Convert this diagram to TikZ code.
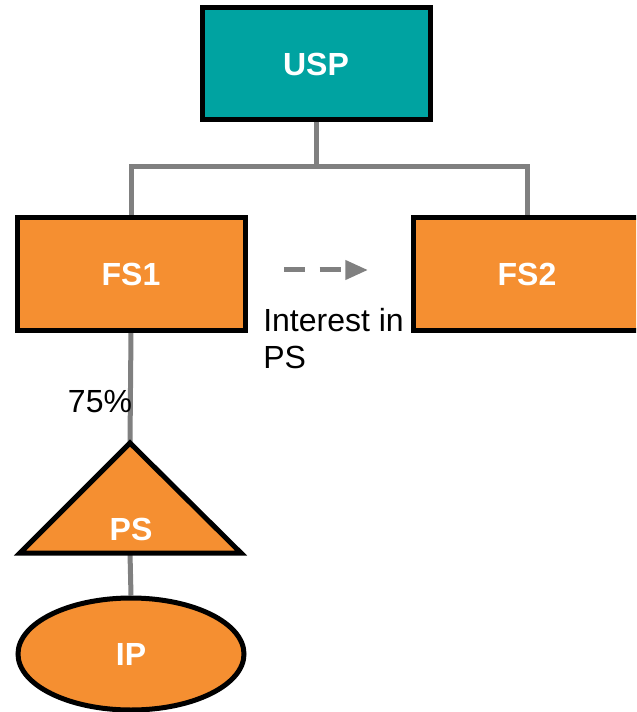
\documentclass[tikz,border=0pt]{standalone}
\usepackage{fontspec}
\setmainfont{Liberation Sans}
\usetikzlibrary{shapes.geometric,arrows.meta}
\definecolor{tealfill}{HTML}{00A3A1}
\definecolor{orangefill}{HTML}{F58F31}
\definecolor{linkgray}{HTML}{808080}
\pgfdeclarelayer{bg}
\pgfsetlayers{bg,main}
\begin{document}
\begin{tikzpicture}[x=0.75pt,y=-0.75pt,
  shapeline/.style={draw=black,line width=3.75pt,line join=miter},
  boldlabel/.style={font=\fontsize{24}{28}\selectfont\bfseries,text=white},
  entity/.style={shapeline,boldlabel,rectangle,minimum width=171pt,minimum height=84pt,inner sep=0pt},
  link/.style={draw=linkgray,line width=3.75pt},
  plain/.style={font=\fontsize{24}{27.75}\selectfont,text=black,inner sep=0pt}]
\useasboundingbox (0,0) rectangle (636,712);
\clip (0,0) rectangle (636,712);

% ownership boxes
\node[entity,fill=tealfill] (usp) at (316,64) {USP};
\node[entity,fill=orangefill] (fs1) at (131,274) {FS1};
\node[entity,fill=orangefill] (fs2) at (527,274) {FS2};

% partnership triangle
\coordinate (apex) at (130,443);
\coordinate (psbase) at (130,553);
\draw[shapeline,fill=orangefill] (apex) -- (241,553) -- (20,553) -- cycle;
\node[boldlabel] (ps) at (131,529) {PS};

% interest ellipse
\node[shapeline,boldlabel,ellipse,fill=orangefill,minimum width=169.5pt,minimum height=84pt,inner sep=0pt] (ip) at (131,654) {IP};

% labels
\node[plain,anchor=west,align=left] (note) at (263,339) {Interest in\\PS};
\node[plain] (pct) at (100,402) {75\%};

% dashed pointer
\coordinate (da) at (284,270);
\coordinate (db) at (368,270);
\draw[link,dash pattern=on 15.75pt off 11pt,-{Triangle[length=17pt,width=14pt]}] (da) -- (db);

% ownership links
\begin{pgfonlayer}{bg}
\coordinate (bus) at (316,167);
\draw[link] (usp.south) -- (bus);
\draw[link] (fs1.north) |- (bus) -| (fs2.north);
\draw[link] (fs1.south) -- (apex);
\draw[link] (psbase) -- (ip.north);
\end{pgfonlayer}
\end{tikzpicture}
\end{document}
